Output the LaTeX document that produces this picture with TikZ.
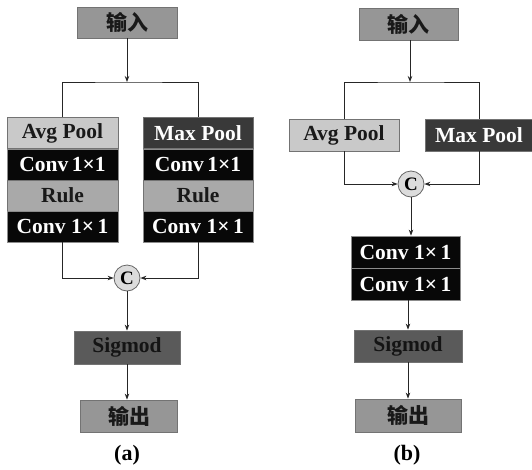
\documentclass[tikz,border=0pt]{standalone}
\usepackage{fontspec}
\setmainfont{Liberation Serif}
\newfontfamily\cjk{Noto Sans CJK SC}
\usetikzlibrary{arrows.meta}
\definecolor{cin}{HTML}{969696}
\definecolor{cavg}{HTML}{C9C9C9}
\definecolor{crule}{HTML}{A9A9A9}
\definecolor{cmax}{HTML}{393939}
\definecolor{cconv}{HTML}{080808}
\definecolor{csig}{HTML}{5A5A5A}
\definecolor{ccirc}{HTML}{DCDCDC}
\tikzset{
  box/.style={draw=black!55, line width=0.8pt, inner sep=0pt, minimum height=31pt,
    font=\fontsize{21.5}{23}\selectfont\bfseries, text=black!90},
  cbox/.style={box, font=\fontsize{21}{23}\selectfont\cjk\bfseries},
  avg/.style={box, fill=cavg},
  rul/.style={box, fill=crule},
  mx/.style={box, fill=cmax, text=white},
  cv/.style={box, fill=cconv, text=white, draw=black!45},
  sg/.style={box, fill=csig, text=black!92},
  io/.style={cbox, fill=cin},
  cc/.style={circle, draw=black!60, fill=ccirc, line width=0.8pt, minimum size=26pt, inner sep=0pt,
    font=\fontsize{19}{20}\selectfont\bfseries},
  ln/.style={line width=0.9pt, draw=black!85},
  ar/.style={ln, -{Stealth[length=6pt,width=4.5pt]}},
  lab/.style={font=\fontsize{22}{24}\selectfont\bfseries}
}
\begin{document}
\begin{tikzpicture}[x=1pt,y=-1pt]
\useasboundingbox[fill=white] (0,0) rectangle (532,469);
% ---------- (a)
\node[io, minimum width=100pt] (ina) at (127,22.5) {输入};
\coordinate (ja) at (127,82);
\node[avg, minimum width=111pt] (la1) at (62.5,133) {Avg Pool};
\node[cv,  minimum width=111pt] (la2) at (62.5,164.5) {Conv\,1×1};
\node[rul, minimum width=111pt] (la3) at (62.5,195.5) {Rule};
\node[cv,  minimum width=111pt] (la4) at (62.5,226.5) {Conv 1×\,1};
\node[mx,  minimum width=110pt] (ra1) at (198,133) {Max Pool};
\node[cv,  minimum width=110pt] (ra2) at (198,164.5) {Conv\,1×1};
\node[rul, minimum width=110pt] (ra3) at (198,195.5) {Rule};
\node[cv,  minimum width=110pt] (ra4) at (198,226.5) {Conv 1×\,1};
\node[cc] (ca) at (127,278) {C};
\node[sg, minimum width=106pt, minimum height=33pt] (sa) at (127,347.5) {Sigmod};
\node[io, minimum width=97pt, minimum height=32pt] (oa) at (129,416) {输出};
\node[lab] (laba) at (127,455) {(a)};
\draw[ar] (ina.south) -- (ja);
\draw[ln] (la1.north) |- (ja) -| (ra1.north);
\draw[ar] (la4.south) |- (ca.west);
\draw[ar] (ra4.south) |- (ca.east);
\draw[ar] (ca.south) -- (sa.north);
\draw[ar] (sa.south) -- (sa.south |- oa.north);
% ---------- (b)
\node[io, minimum width=99pt, minimum height=32pt] (inb) at (408.5,24) {输入};
\coordinate (jb) at (410,82);
\node[avg, minimum width=110pt, minimum height=32pt] (lb) at (344,135) {Avg Pool};
\node[mx,  minimum width=108pt, minimum height=32pt] (rb) at (479,135) {Max Pool};
\node[cc] (cb) at (411,184) {C};
\node[cv, minimum width=109pt, minimum height=32pt] (cv1) at (405.5,252) {Conv 1×\,1};
\node[cv, minimum width=109pt, minimum height=32pt] (cv2) at (405.5,284) {Conv 1×\,1};
\node[sg, minimum width=108pt, minimum height=32pt] (sb) at (408,346) {Sigmod};
\node[io, minimum width=106pt, minimum height=33pt] (ob) at (408,415.5) {输出};
\node[lab] (labb) at (407,455) {(b)};
\draw[ar] (inb.south -| jb) -- (jb);
\draw[ln] (lb.north) |- (jb) -| (rb.north);
\draw[ar] (lb.south) |- (cb.west);
\draw[ar] (rb.south) |- (cb.east);
\draw[ar] (cb.south) -- (cb.south |- cv1.north);
\draw[ar] (cv2.south -| sb.north) -- (sb.north);
\draw[ar] (sb.south) -- (ob.north);
\end{tikzpicture}
\end{document}
